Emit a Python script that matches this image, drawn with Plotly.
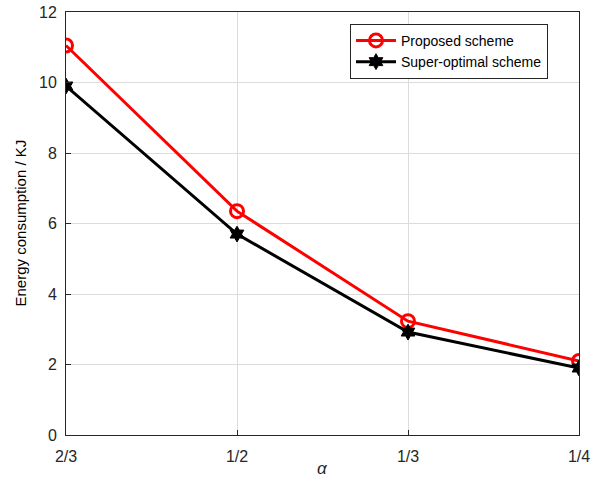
import plotly.graph_objects as go

categories = ["2/3", "1/2", "1/3", "1/4"]
proposed = [11.05, 6.35, 3.23, 2.1]
super_optimal = [9.9, 5.7, 2.92, 1.9]
y_ticks = [0, 2, 4, 6, 8, 10, 12]

xs = list(range(len(categories)))

fig = go.Figure()
fig.add_trace(go.Scatter(
    x=xs, y=proposed, mode="lines+markers", name="Proposed scheme",
    line=dict(color="#ff0000", width=3),
    marker=dict(symbol="circle-open", size=13, color="#ff0000", line=dict(width=3, color="#ff0000")),
))
fig.add_trace(go.Scatter(
    x=xs, y=super_optimal, mode="lines+markers", name="Super-optimal scheme",
    line=dict(color="#000000", width=3),
    marker=dict(symbol="hexagram", size=12, color="#000000", line=dict(width=1, color="#000000")),
))

fig.update_layout(
    width=601, height=480,
    margin=dict(l=66, r=22, t=12, b=45),
    paper_bgcolor="white", plot_bgcolor="white",
    font=dict(family="Liberation Sans, Arial, sans-serif", size=16, color="#262626"),
    showlegend=True,
    legend=dict(
        x=0.5536, y=0.972, xanchor="left", yanchor="top",
        bgcolor="white", bordercolor="#262626", borderwidth=1,
        font=dict(size=14, color="#000000"), tracegroupgap=0,
        itemwidth=40,
    ),
    xaxis=dict(
        range=[0, 3], tickvals=xs, ticktext=categories,
        showgrid=True, gridcolor="#dcdcdc", gridwidth=1,
        showline=True, linecolor="#262626", linewidth=1, mirror=True,
        ticks="inside", ticklen=5, tickcolor="#262626",
        ticklabelstandoff=7,
        zeroline=False, automargin=False,
    ),
    yaxis=dict(
        range=[0, 12], tickvals=y_ticks,
        showgrid=True, gridcolor="#dcdcdc", gridwidth=1,
        showline=True, linecolor="#262626", linewidth=1, mirror=True,
        ticks="inside", ticklen=5, tickcolor="#262626",
        ticklabelstandoff=5,
        zeroline=False, automargin=False,
    ),
    annotations=[
        dict(text="<i>α</i>", xref="paper", yref="paper", x=0.5, y=-(468 - 435) / 423,
             xanchor="center", yanchor="middle", showarrow=False,
             font=dict(size=17, color="#262626")),
        dict(text="Energy consumption / KJ", xref="paper", yref="paper",
             x=-(66 - 20) / 513, y=0.5, xanchor="center", yanchor="middle",
             textangle=-90, showarrow=False, font=dict(size=15, color="#000000")),
    ],
)

fig.write_html("out.html")
